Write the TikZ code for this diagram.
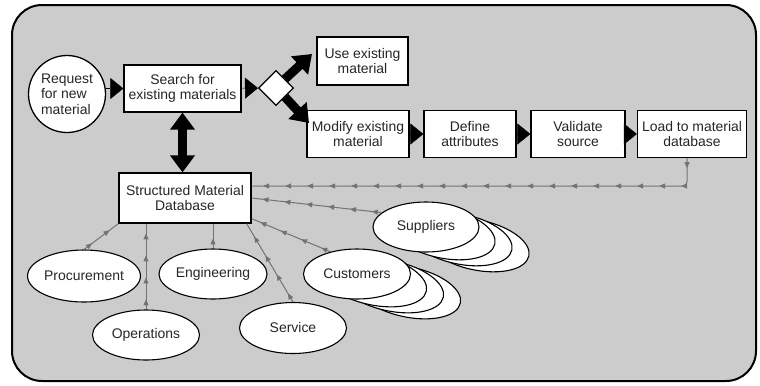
\documentclass[tikz,border=0pt]{standalone}
\usepackage{fontspec}
\setmainfont{Liberation Sans}
\usetikzlibrary{arrows.meta,shapes.geometric,decorations.markings}
\begin{document}
\begin{tikzpicture}[x=1bp,y=-1bp,
    every node/.style={font=\fontsize{14}{15.5}\selectfont,text=black!85},
    box/.style={draw=black,fill=white,line width=1.3bp,align=center,inner sep=2bp,minimum height=47bp},
    oval/.style={draw=black,fill=white,ellipse,line width=1.1bp,inner sep=0pt,minimum width=106bp,minimum height=50bp},
    flow/.style={-{Triangle[length=13bp,width=21bp]},line width=0.5bp},
    bigarrow/.style={line width=9bp,-{Triangle[length=17bp,width=24bp]}},
    feed/.style={color=black!55,line width=1bp,postaction={decorate},decoration={markings,
        mark=between positions 10bp and 1 step 22bp with {\arrow{Triangle[length=6bp,width=5bp]}}}}]
  \useasboundingbox (0,0) rectangle (760,385);
  \draw[line width=2bp,fill=black!20,rounded corners=30bp] (12,5) rectangle (756,381);
  % stacked ovals behind customers and suppliers
  \foreach \k in {3,2,1}{
    \draw[line width=1.1bp,fill=white,rotate around={-12:(357+17*\k,274+6*\k)}] (357+17*\k,274+6*\k) ellipse (53.5bp and 25bp);
    \draw[line width=1.1bp,fill=white,rotate around={-12:(426+17*\k,227+6*\k)}] (426+17*\k,227+6*\k) ellipse (53bp and 25bp);
  }
  \node[draw=black,circle,fill=white,line width=1.3bp,minimum size=77bp,inner sep=0pt,align=left] (req) at (67,94) {Request\\for new\\material};
  \node[box,minimum width=117bp] (search) at (182.5,88.5) {Search for\\existing materials};
  \node[draw=black,diamond,fill=white,line width=1.2bp,minimum size=35bp,inner sep=0pt] (dia) at (276,88) {};
  \node[box,minimum width=91bp,minimum height=48bp] (use) at (362.5,61) {Use existing\\material};
  \node[box,minimum width=102bp] (mod) at (358,134) {Modify existing\\material};
  \node[box,minimum width=92bp] (defn) at (470,134) {Define\\attributes};
  \node[box,minimum width=94bp] (valid) at (578,134) {Validate\\source};
  \node[box,minimum width=109bp] (load) at (692,134) {Load to material\\database};
  \node[box,minimum width=132bp,minimum height=50bp] (smd) at (185,198) {Structured Material\\Database};
  \node[oval,minimum width=104bp,minimum height=52bp] (proc) at (84,276) {Procurement};
  \node[oval,minimum width=108bp] (eng) at (213,274) {Engineering};
  \node[oval,minimum width=107bp] (ops) at (146,335) {Operations};
  \node[oval,minimum width=107bp,minimum height=51bp] (serv) at (293,328) {Service};
  \node[oval,minimum width=107bp] (cust) at (357,274) {Customers};
  \node[oval] (supp) at (426,227) {Suppliers};
  \coordinate (usetip) at (312,54);
  \coordinate (modtip) at (309,123);
  \coordinate (fb) at (687,186);
  % main flow
  \draw[flow] (search.west -| req.east) -- (search.west);
  \draw[flow] (search) -- (dia);
  \draw[flow] (mod) -- (defn);
  \draw[flow] (defn) -- (valid);
  \draw[flow] (valid) -- (load);
  \draw[bigarrow] (dia.north east) -- (usetip);
  \draw[bigarrow] (dia.south east) -- (modtip);
  \draw[bigarrow,{Triangle[length=17bp,width=24bp]}-{Triangle[length=17bp,width=24bp]}] (search.south) -- (search.south |- smd.north);
  % feeds into the database
  \draw[feed,rounded corners=4bp] (load.south -| fb) -- (fb) -- (fb -| smd.east);
  \draw[feed] (supp.162) -- (smd.east);
  \draw[feed] (cust.140) -- ([yshift=5bp]smd.south east);
  \draw[feed] (serv.north) -- ([xshift=-5bp]smd.south east);
  \draw[feed] (eng.north) -- (eng.north |- smd.south);
  \draw[feed] (ops.north) -- (ops.north |- smd.south);
  \draw[feed] (proc.north) -- (smd.south west);
\end{tikzpicture}
\end{document}
